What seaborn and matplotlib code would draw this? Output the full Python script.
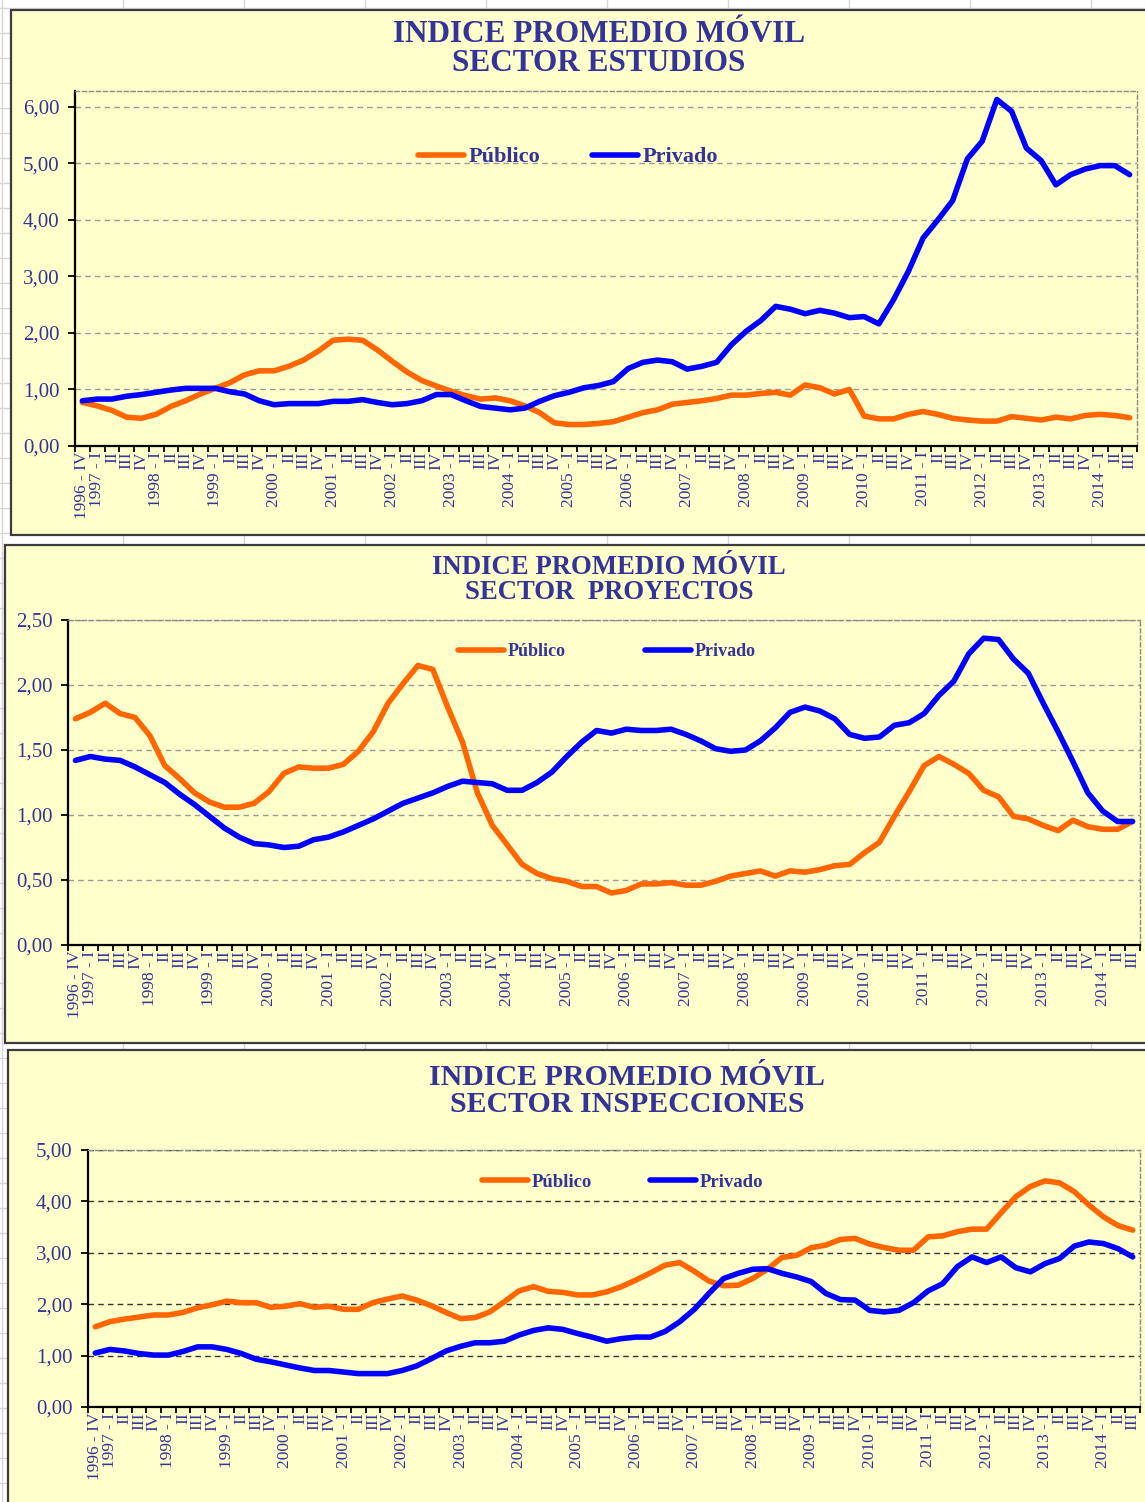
import matplotlib
matplotlib.use("Agg")
import matplotlib.pyplot as plt
import seaborn as sns
import pandas as pd
from matplotlib.patches import Rectangle
from matplotlib.lines import Line2D
from matplotlib.ticker import FixedLocator, FuncFormatter

# quarters 1996-IV .. 2014-III
ROMAN = ["I", "II", "III", "IV"]
quarter_labels = ["1996 - IV"]
for year in range(1997, 2015):
    for q in ROMAN:
        quarter_labels.append(f"{year} - I" if q == "I" else q)
quarter_labels = quarter_labels[:72]

estudios_publico = [
    0.77, 0.71, 0.63, 0.51, 0.49, 0.56, 0.70, 0.80, 0.92, 1.02,
    1.12, 1.26, 1.33, 1.33, 1.41, 1.52, 1.68, 1.87, 1.89, 1.87,
    1.70, 1.50, 1.31, 1.16, 1.06, 0.97, 0.89, 0.83, 0.85, 0.80,
    0.71, 0.59, 0.41, 0.38, 0.38, 0.40, 0.43, 0.51, 0.59, 0.64,
    0.74, 0.77, 0.80, 0.84, 0.90, 0.90, 0.93, 0.95, 0.90, 1.08,
    1.03, 0.92, 1.00, 0.53, 0.48, 0.48, 0.56, 0.61, 0.56, 0.49,
    0.46, 0.44, 0.44, 0.52, 0.49, 0.46, 0.51, 0.48, 0.54, 0.56,
    0.54, 0.50]
estudios_privado = [
    0.80, 0.83, 0.83, 0.88, 0.91, 0.95, 0.99, 1.02, 1.02, 1.02,
    0.96, 0.92, 0.80, 0.73, 0.75, 0.75, 0.75, 0.79, 0.79, 0.82,
    0.77, 0.73, 0.75, 0.80, 0.91, 0.91, 0.80, 0.70, 0.67, 0.64,
    0.67, 0.79, 0.89, 0.95, 1.03, 1.07, 1.14, 1.37, 1.48, 1.52,
    1.49, 1.36, 1.41, 1.48, 1.79, 2.03, 2.22, 2.47, 2.42, 2.34,
    2.40, 2.35, 2.27, 2.29, 2.16, 2.59, 3.09, 3.68, 4.00, 4.34,
    5.08, 5.39, 6.13, 5.92, 5.27, 5.05, 4.62, 4.80, 4.90, 4.96,
    4.96, 4.80]

proyectos_publico = [
    1.74, 1.79, 1.86, 1.78, 1.75, 1.61, 1.38, 1.28, 1.17, 1.10,
    1.06, 1.06, 1.09, 1.18, 1.32, 1.37, 1.36, 1.36, 1.39, 1.49,
    1.64, 1.86, 2.01, 2.15, 2.12, 1.83, 1.56, 1.17, 0.92, 0.77,
    0.62, 0.55, 0.51, 0.49, 0.45, 0.45, 0.40, 0.42, 0.47, 0.47,
    0.48, 0.46, 0.46, 0.49, 0.53, 0.55, 0.57, 0.53, 0.57, 0.56,
    0.58, 0.61, 0.62, 0.71, 0.79, 0.99, 1.18, 1.38, 1.45, 1.39,
    1.32, 1.19, 1.14, 0.99, 0.97, 0.92, 0.88, 0.96, 0.91, 0.89,
    0.89, 0.95]
proyectos_privado = [
    1.42, 1.45, 1.43, 1.42, 1.37, 1.31, 1.25, 1.16, 1.08, 0.99,
    0.90, 0.83, 0.78, 0.77, 0.75, 0.76, 0.81, 0.83, 0.87, 0.92,
    0.97, 1.03, 1.09, 1.13, 1.17, 1.22, 1.26, 1.25, 1.24, 1.19,
    1.19, 1.25, 1.33, 1.45, 1.56, 1.65, 1.63, 1.66, 1.65, 1.65,
    1.66, 1.62, 1.57, 1.51, 1.49, 1.50, 1.57, 1.67, 1.79, 1.83,
    1.80, 1.74, 1.62, 1.59, 1.60, 1.69, 1.71, 1.78, 1.92, 2.03,
    2.24, 2.36, 2.35, 2.20, 2.09, 1.86, 1.64, 1.41, 1.17, 1.03,
    0.95, 0.95]

inspecciones_publico = [
    1.56, 1.66, 1.71, 1.75, 1.79, 1.79, 1.84, 1.93, 1.99, 2.06,
    2.03, 2.03, 1.94, 1.96, 2.01, 1.94, 1.96, 1.90, 1.90, 2.03,
    2.10, 2.16, 2.08, 1.97, 1.84, 1.72, 1.74, 1.85, 2.05, 2.26,
    2.34, 2.25, 2.23, 2.18, 2.18, 2.24, 2.34, 2.47, 2.61, 2.76,
    2.81, 2.64, 2.45, 2.36, 2.37, 2.50, 2.68, 2.91, 2.95, 3.10,
    3.15, 3.26, 3.28, 3.17, 3.10, 3.05, 3.05, 3.31, 3.33, 3.41,
    3.46, 3.46, 3.78, 4.09, 4.29, 4.40, 4.36, 4.19, 3.93, 3.70,
    3.53, 3.44]
inspecciones_privado = [
    1.05, 1.12, 1.09, 1.04, 1.01, 1.01, 1.08, 1.17, 1.17, 1.12,
    1.04, 0.93, 0.88, 0.82, 0.76, 0.71, 0.71, 0.68, 0.65, 0.65,
    0.65, 0.71, 0.80, 0.94, 1.09, 1.18, 1.25, 1.25, 1.28, 1.40,
    1.49, 1.54, 1.51, 1.43, 1.36, 1.28, 1.33, 1.36, 1.36, 1.47,
    1.66, 1.90, 2.21, 2.50, 2.60, 2.68, 2.69, 2.60, 2.53, 2.44,
    2.21, 2.09, 2.08, 1.88, 1.85, 1.88, 2.03, 2.26, 2.40, 2.73,
    2.92, 2.81, 2.92, 2.71, 2.63, 2.79, 2.89, 3.13, 3.21, 3.18,
    3.08, 2.92]

titles = ["INDICE PROMEDIO MÓVIL\nSECTOR ESTUDIOS",
          "INDICE PROMEDIO MÓVIL\nSECTOR  PROYECTOS",
          "INDICE PROMEDIO MÓVIL\nSECTOR INSPECCIONES"]

NAVY = "#333399"
ORANGE = "#FF6600"
BLUE = "#0000FF"
YELLOW = "#FFFFCC"
SERIF = ["Liberation Serif", "DejaVu Serif"]

W, H = 1145, 1502
plt.rcParams["font.family"] = SERIF

fig = plt.figure(figsize=(W / 100, H / 100), dpi=100)
fig.patch.set_facecolor("white")

# spreadsheet cell grid behind the charts
for gx in range(2, W, 121):
    fig.add_artist(Line2D([gx / W] * 2, [0, 1], color="#D6D6D6", lw=1, zorder=0))
for gy in range(8, H, 25):
    fig.add_artist(Line2D([0, 1], [1 - gy / H] * 2, color="#D6D6D6", lw=1, zorder=0))


def px_box(left, top, right, bottom):
    return [left / W, 1 - bottom / H, (right - left) / W, (bottom - top) / H]


panels = [
    dict(title=titles[0], pub=estudios_publico, priv=estudios_privado,
         frame=(11, 10, 1160, 535), ax=(75, 91, 1137, 446), ylim=6.28,
         yticks=[0, 1, 2, 3, 4, 5, 6], grid="#9A9A9A",
         tpos=(599, 49), tsize=22.5, lpos=(568, 157), lsize=16, lcol=2.3),
    dict(title=titles[1], pub=proyectos_publico, priv=proyectos_privado,
         frame=(5, 545, 1160, 1043), ax=(68, 620, 1140, 945), ylim=2.5,
         yticks=[0, 0.5, 1.0, 1.5, 2.0, 2.5], grid="#9A9A9A",
         tpos=(609, 580), tsize=19.3, lpos=(607, 652), lsize=13, lcol=4.4),
    dict(title=titles[2], pub=inspecciones_publico, priv=inspecciones_privado,
         frame=(8, 1050, 1160, 1520), ax=(88, 1150, 1140, 1407), ylim=5.0,
         yticks=[0, 1, 2, 3, 4, 5], grid="#333333",
         tpos=(627, 1091), tsize=21.5, lpos=(623, 1182), lsize=13.5, lcol=3.1),
]

x = list(range(len(quarter_labels)))

for p in panels:
    l, t, r, b = p["frame"]
    fig.add_artist(Rectangle((l / W, 1 - b / H), (r - l) / W, (b - t) / H,
                             transform=fig.transFigure, facecolor=YELLOW,
                             edgecolor="#3C3C3C", lw=1.6, zorder=1))

    ax = fig.add_axes(px_box(*p["ax"]))
    ax.set_zorder(2)
    ax.set_facecolor(YELLOW)

    df = pd.DataFrame({"q": x, "Público": p["pub"], "Privado": p["priv"]})
    sns.lineplot(data=df, x="q", y="Público", ax=ax, color=ORANGE, lw=4,
                 label="Público", solid_joinstyle="round", solid_capstyle="round")
    sns.lineplot(data=df, x="q", y="Privado", ax=ax, color=BLUE, lw=4,
                 label="Privado", solid_joinstyle="round", solid_capstyle="round")

    ax.set_xlim(-0.5, len(x) - 0.5)
    ax.set_ylim(0, p["ylim"])
    ax.set_xlabel("")
    ax.set_ylabel("")

    ax.yaxis.set_major_locator(FixedLocator(p["yticks"]))
    ax.yaxis.set_major_formatter(FuncFormatter(lambda v, pos: f"{v:.2f}".replace(".", ",")))
    ax.tick_params(axis="y", direction="out", length=5, width=1.3, color="black",
                   pad=6, labelsize=15, labelcolor=NAVY)

    ax.set_xticks(x)
    ax.set_xticklabels(quarter_labels, rotation=90, va="top", ha="center")
    ax.xaxis.set_minor_locator(FixedLocator([i - 0.5 for i in range(len(x) + 1)]))
    ax.tick_params(axis="x", which="major", length=0, pad=4, labelsize=12.5,
                   labelcolor=NAVY)
    ax.tick_params(axis="x", which="minor", direction="out", length=4.5,
                   width=1.3, color="black")

    ax.yaxis.grid(True, linestyle=(0, (4, 3)), color=p["grid"], lw=1)
    ax.xaxis.grid(False)
    ax.set_axisbelow(True)

    for side in ("left", "bottom"):
        ax.spines[side].set_color("black")
        ax.spines[side].set_linewidth(1.6)
    for side in ("top", "right"):
        ax.spines[side].set_color("#8A8A8A")
        ax.spines[side].set_linestyle((0, (3, 2)))
        ax.spines[side].set_linewidth(1)

    fs_px = p["lsize"] * 100 / 72
    handles, labels = ax.get_legend_handles_labels()
    ax.legend(handles, labels, loc="center",
              bbox_to_anchor=(p["lpos"][0] / W, 1 - p["lpos"][1] / H),
              bbox_transform=fig.transFigure, ncol=2, frameon=False,
              prop=dict(family=SERIF, weight="bold", size=p["lsize"]),
              labelcolor=NAVY, handlelength=46 / fs_px, handletextpad=0.2,
              columnspacing=p["lcol"], borderpad=0)

    fig.text(p["tpos"][0] / W, 1 - p["tpos"][1] / H, p["title"], ha="center",
             va="center", color=NAVY, fontsize=p["tsize"], fontweight="bold",
             family=SERIF, linespacing=1.0, zorder=3)

fig.savefig("out.png", dpi=100, facecolor=fig.get_facecolor())
